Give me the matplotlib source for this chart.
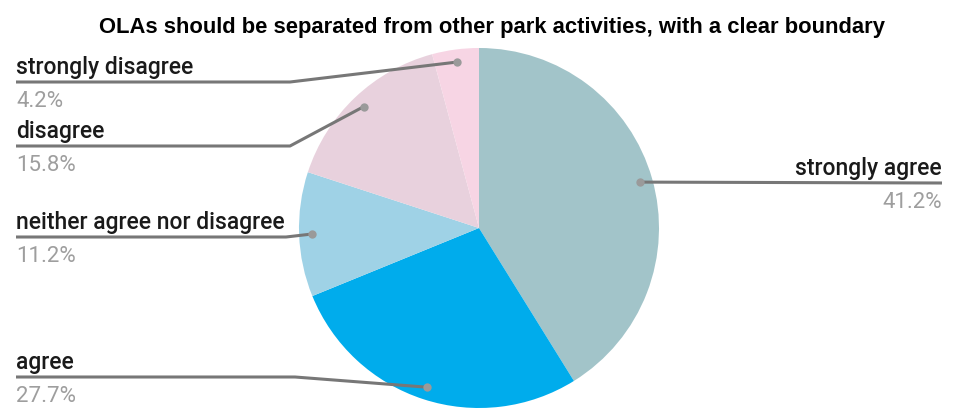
import matplotlib
matplotlib.use("Agg")
import matplotlib.pyplot as plt
import numpy as np

# survey answers, clockwise from 12 o'clock
labels = ["strongly agree", "agree", "neither agree nor disagree", "disagree", "strongly disagree"]
shares = [41.2, 27.7, 11.2, 15.8, 4.2]
colors = ["#a2c4c9", "#00acec", "#9fd2e6", "#e8d1dd", "#f7d5e4"]

W, H = 959, 415
CX, CY, R = 479, 228, 180


def Y(py):
    # pixel row (from top) -> data y
    return H - py


fig = plt.figure(figsize=(W / 100, H / 100), dpi=100)
ax = fig.add_axes([0, 0, 1, 1])
ax.pie(shares, colors=colors, startangle=90, counterclock=False,
       center=(CX, Y(CY)), radius=R, wedgeprops=dict(linewidth=0))
ax.set_xlim(0, W)
ax.set_ylim(0, H)
ax.set_aspect("equal")
ax.axis("off")

fig.text(492 / W, 1 - 33 / H,
         "OLAs should be separated from other park activities, with a clear boundary",
         ha="center", va="baseline", fontsize=15.8, fontweight="bold",
         family="Liberation Sans", color="#000000")

# label layout: (side, underline row, elbow x)
layout = {
    "strongly agree": ("right", 183, None),
    "agree": ("left", 377, 295),
    "neither agree nor disagree": ("left", 237, 286),
    "disagree": ("left", 146, 290),
    "strongly disagree": ("left", 82, 290),
}

total = sum(shares)
start = 0.0
for lab, val in zip(labels, shares):
    mid = (start + val / 2) / total * 360
    start += val
    ang = np.deg2rad(90 - mid)
    dx = CX + 0.93 * R * np.cos(ang)
    dy = CY - 0.93 * R * np.sin(ang)
    side, ly, ex = layout[lab]
    if side == "left":
        xs = [dx, ex, 16]
        ys = [dy, ly, ly]
        tx, ha = 16, "left"
    else:
        xs = [dx, 942]
        ys = [dy, ly]
        tx, ha = 942, "right"
    ax.plot(xs, [Y(v) for v in ys], color="#777777", lw=2.2, solid_capstyle="butt", zorder=3)
    ax.plot(dx, Y(dy), "o", ms=6, color="#9a9a9a", mec="none", zorder=4)
    ax.text(tx, Y(ly - 8), lab, ha=ha, va="baseline", fontsize=16.5,
            family="Roboto", fontweight="medium", color="#1a1a1a")
    ax.text(tx, Y(ly + 25), f"{val}%", ha=ha, va="baseline", fontsize=16,
            family="Roboto", color="#9e9e9e")

fig.savefig("out.png", dpi=100, facecolor="white")
